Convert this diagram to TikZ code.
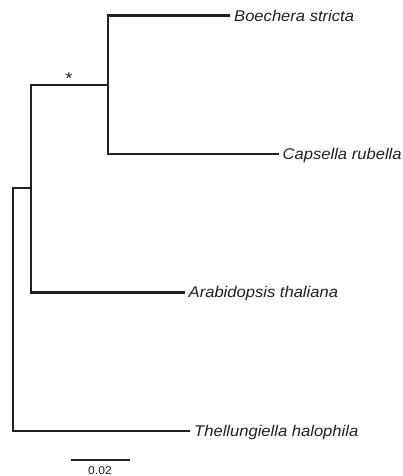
\documentclass[tikz,border=0pt]{standalone}
\usepackage{fontspec}
\setmainfont{Liberation Sans}
\newfontfamily\taxfont[FakeStretch=1.07,ItalicFont={Liberation Sans Italic},ItalicFeatures={FakeStretch=1.07}]{Liberation Sans}
\usepackage{tikz}
\usetikzlibrary{positioning}
\definecolor{treeink}{HTML}{231F20}

\tikzset{
  branch/.style={draw=treeink,line width=2.4pt,line join=miter},
  taxon/.style={anchor=west,inner xsep=4pt,inner ysep=0pt,text height=11pt,text depth=0pt,text=treeink,font=\taxfont\itshape\fontsize{15.5}{17}\selectfont},
  scalelabel/.style={anchor=base,inner sep=0pt,text=treeink,font=\taxfont\fontsize{11.3}{13}\selectfont}
}

\begin{document}
\begin{tikzpicture}[x=1pt,y=-1pt]
\useasboundingbox (0,0) rectangle (402,476);
% internal nodes
\coordinate (root) at (13,300);
\coordinate (abc) at (31,188);
\coordinate (bc) at (108,85);
% leaves
\node[taxon] (boechera) at (230,15.7) {Boechera stricta};
\node[taxon] (capsella) at (278.5,154) {Capsella rubella};
\node[taxon] (arabidopsis) at (184.5,292.3) {Arabidopsis thaliana};
\node[taxon] (thellungiella) at (190,430.7) {Thellungiella halophila};
% branches
\draw[branch] (root) |- (abc);
\draw[branch] (root) |- (thellungiella.west);
\draw[branch] (abc) |- (bc);
\draw[branch] (abc) |- (arabidopsis.west);
\draw[branch] (bc) |- (boechera.west);
\draw[branch] (bc) |- (capsella.west);
% support
\node[text=treeink,anchor=base,inner sep=0pt,font=\taxfont\fontsize{17}{19}\selectfont] (star) at (69,84.5) {*};
% scale bar
\coordinate (sbl) at (71,460);
\coordinate (sbr) at (130,460);
\draw[branch] (sbl) -- (sbr);
\node[scalelabel] (sbtext) at (100,474.3) {0.02};
\end{tikzpicture}
\end{document}
